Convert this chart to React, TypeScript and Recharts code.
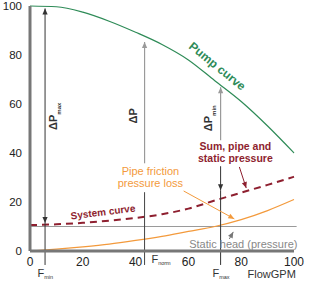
import React from "react";
import {
  ComposedChart,
  Line,
  XAxis,
  YAxis,
  ReferenceLine,
  ReferenceDot,
} from "recharts";

// flow in GPM, heads in % of max pressure
const flow = [0, 10, 20, 30, 40, 50, 60, 70, 80, 90, 100];
const pumpHead = [100, 99.7, 97.5, 93.8, 89.3, 84.3, 78, 69.5, 61, 51, 40];
const systemHead = [10.6, 10.9, 11.5, 12.4, 13.5, 15.0, 17.3, 20.6, 23.8, 27, 30.3];
const pipeFriction = [0, 0.8, 1.7, 2.8, 4.3, 6.0, 8.0, 10.0, 12.8, 16.5, 21];
const staticHead = 10;
const xTicks = [0, 20, 40, 60, 80, 100];
const yTicks = [0, 20, 40, 60, 80, 100];

const fMin = 5.7;
const fNorm = 43.4;
const fMax = 72.2;

const data = flow.map((f, i) => ({
  flow: f,
  pump: pumpHead[i],
  system: systemHead[i],
  friction: pipeFriction[i],
}));

const FONT = "'Liberation Sans', Arial, sans-serif";
const GREEN = "#2e8b57";
const RED = "#8e1f2f";
const ORANGE = "#f39a3c";
const GRAY = "#9a9a9a";
const DARK = "#333";

function head(x: number, y: number, fx: number, fy: number, color: string) {
  const a = Math.atan2(y - fy, x - fx);
  const len = 6;
  const half = 2.6;
  const bx = x - len * Math.cos(a);
  const by = y - len * Math.sin(a);
  const px = -Math.sin(a) * half;
  const py = Math.cos(a) * half;
  return (
    <polygon
      points={`${x},${y} ${bx + px},${by + py} ${bx - px},${by - py}`}
      fill={color}
    />
  );
}

const arrow =
  (start: boolean, end: boolean) =>
  (p: any) => {
    const { x1, y1, x2, y2, stroke, strokeWidth } = p;
    return (
      <g>
        <line x1={x1} y1={y1} x2={x2} y2={y2} stroke={stroke} strokeWidth={strokeWidth} />
        {start && head(x1, y1, x2, y2, stroke)}
        {end && head(x2, y2, x1, y1, stroke)}
      </g>
    );
  };

const deltaLabel = (sub: string) => (p: any) => (
  <text
    x={p.cx}
    y={p.cy}
    transform={`rotate(-90 ${p.cx} ${p.cy})`}
    textAnchor="middle"
    fontFamily={FONT}
    fontSize={11}
    fontWeight="bold"
    fill={DARK}
  >
    ΔP
    {sub && (
      <tspan fontSize={6} dy={4}>
        {sub}
      </tspan>
    )}
  </text>
);

const fLabel = (sub: string) => (p: any) => (
  <text x={p.cx} y={p.cy} fontFamily={FONT} fontSize={11} fill={DARK}>
    F
    <tspan fontSize={5.5} dy={2}>
      {sub}
    </tspan>
  </text>
);

const note =
  (
    lines: string[],
    color: string,
    opts: { size?: number; bold?: boolean; anchor?: string; rotate?: number; gap?: number } = {}
  ) =>
  (p: any) => (
    <text
      x={p.cx}
      y={p.cy}
      transform={opts.rotate ? `rotate(${opts.rotate} ${p.cx} ${p.cy})` : undefined}
      textAnchor={opts.anchor ?? "middle"}
      fontFamily={FONT}
      fontSize={opts.size ?? 11}
      fontWeight={opts.bold ? "bold" : "normal"}
      fill={color}
    >
      {lines.map((l, i) => (
        <tspan key={i} x={p.cx} dy={i === 0 ? 0 : opts.gap ?? 12}>
          {l}
        </tspan>
      ))}
    </text>
  );

export default function App() {
  return (
    <div style={{ position: "absolute", left: 0, top: 0 }}>
      <ComposedChart
        width={320}
        height={287}
        data={data}
        margin={{ top: 6, right: 26, bottom: 6, left: 5 }}
      >
        <XAxis
          dataKey="flow"
          type="number"
          domain={[0, 100]}
          ticks={xTicks}
          interval={0}
          height={30}
          tickLine={false}
          tickSize={4}
          tickMargin={2}
          axisLine={{ stroke: "#777", strokeWidth: 3 }}
          tick={{ fontSize: 12, fill: "#222", fontFamily: FONT }}
        />
        <YAxis
          type="number"
          domain={[0, 100]}
          ticks={yTicks}
          interval={0}
          width={25}
          tickLine={false}
          axisLine={{ stroke: "#777", strokeWidth: 3 }}
          tick={{ fontSize: 11.5, fill: "#222", fontFamily: FONT }}
        />

        <ReferenceLine
          segment={[{ x: 0, y: staticHead }, { x: 101, y: staticHead }]}
          stroke={GRAY}
          strokeWidth={1}
          ifOverflow="visible"
        />

        <Line dataKey="friction" type="monotone" stroke={ORANGE} strokeWidth={1.2} dot={false} isAnimationActive={false} />
        <Line dataKey="system" type="monotone" stroke={RED} strokeWidth={2} strokeDasharray="7 5" dot={false} isAnimationActive={false} />
        <Line dataKey="pump" type="monotone" stroke={GREEN} strokeWidth={1.2} dot={false} isAnimationActive={false} />

        {/* F min / delta P max */}
        <ReferenceLine segment={[{ x: fMin, y: 99 }, { x: fMin, y: 11.4 }]} stroke={DARK} strokeWidth={1} ifOverflow="visible" shape={arrow(true, true)} />
        <ReferenceLine segment={[{ x: fMin, y: 11.4 }, { x: fMin, y: -5.7 }]} stroke={DARK} strokeWidth={1} ifOverflow="visible" />

        {/* F norm / delta P */}
        <ReferenceLine segment={[{ x: fNorm, y: 85.3 }, { x: fNorm, y: 35.8 }]} stroke={GRAY} strokeWidth={1.2} ifOverflow="visible" shape={arrow(true, false)} />
        <ReferenceLine segment={[{ x: fNorm, y: 24 }, { x: fNorm, y: -5.7 }]} stroke="#444" strokeWidth={1} ifOverflow="visible" />

        {/* F max / delta P min */}
        <ReferenceLine segment={[{ x: fMax, y: 66.8 }, { x: fMax, y: 45.2 }]} stroke={GRAY} strokeWidth={1.2} ifOverflow="visible" shape={arrow(true, false)} />
        <ReferenceLine segment={[{ x: fMax, y: 34.6 }, { x: fMax, y: 24.8 }]} stroke={DARK} strokeWidth={1} ifOverflow="visible" shape={arrow(false, true)} />
        <ReferenceLine segment={[{ x: fMax, y: 24.8 }, { x: fMax, y: -5.7 }]} stroke={DARK} strokeWidth={1} ifOverflow="visible" />

        {/* pointer arrows */}
        <ReferenceLine segment={[{ x: 79.3, y: 34.3 }, { x: 81.9, y: 25.7 }]} stroke={RED} strokeWidth={1} ifOverflow="visible" shape={arrow(false, true)} />
        <ReferenceLine segment={[{ x: 58.2, y: 24.5 }, { x: 77.4, y: 13.1 }]} stroke={ORANGE} strokeWidth={1} ifOverflow="visible" shape={arrow(false, true)} />
        <ReferenceLine segment={[{ x: 75.5, y: 4.9 }, { x: 77, y: 7.8 }]} stroke="#777" strokeWidth={1} ifOverflow="visible" shape={arrow(false, true)} />

        {/* labels */}
        <ReferenceDot x={10.4} y={55} ifOverflow="visible" shape={deltaLabel("max")} />
        <ReferenceDot x={40.7} y={55.2} ifOverflow="visible" shape={deltaLabel("")} />
        <ReferenceDot x={69.1} y={54.2} ifOverflow="visible" shape={deltaLabel("min")} />

        <ReferenceDot x={70} y={74.1} ifOverflow="visible" shape={note(["Pump curve"], GREEN, { bold: true, size: 12, rotate: 39 })} />
        <ReferenceDot x={77.8} y={41.1} ifOverflow="visible" shape={note(["Sum, pipe and", "static pressure"], RED, { bold: true, size: 10.5 })} />
        <ReferenceDot x={45.6} y={31} ifOverflow="visible" shape={note(["Pipe friction", "pressure loss"], ORANGE, { size: 11 })} />
        <ReferenceDot x={27.8} y={14.5} ifOverflow="visible" shape={note(["System curve"], RED, { bold: true, size: 10, rotate: -7 })} />
        <ReferenceDot x={101.3} y={1.2} ifOverflow="visible" shape={note(["Static head (pressure)"], "#888", { size: 11, anchor: "end" })} />
        <ReferenceDot x={82.4} y={-11} ifOverflow="visible" shape={note(["FlowGPM"], DARK, { size: 11, anchor: "start" })} />

        <ReferenceDot x={2.8} y={-10.6} ifOverflow="visible" shape={fLabel("min")} />
        <ReferenceDot x={46} y={-4.9} ifOverflow="visible" shape={fLabel("norm")} />
        <ReferenceDot x={69.1} y={-10.6} ifOverflow="visible" shape={fLabel("max")} />
      </ComposedChart>
    </div>
  );
}
